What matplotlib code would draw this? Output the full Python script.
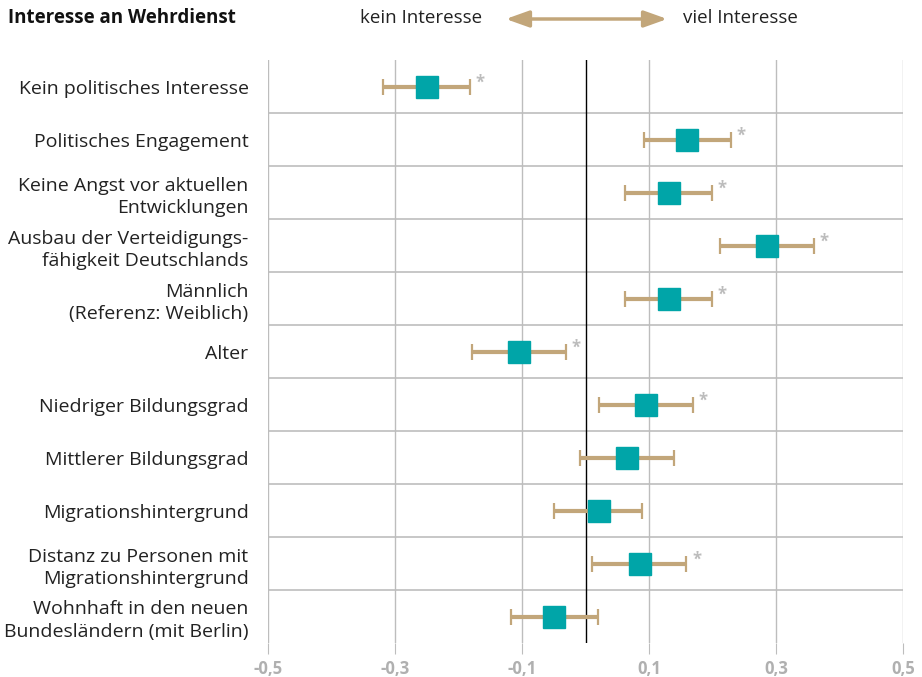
import numpy as np
import matplotlib.pyplot as plt
from matplotlib.patches import FancyArrowPatch

plt.rcParams['font.family'] = ['Open Sans', 'DejaVu Sans']

labels = ['Kein politisches Interesse', 'Politisches Engagement',
          'Keine Angst vor aktuellen\nEntwicklungen',
          'Ausbau der Verteidigungs-\nfähigkeit Deutschlands',
          'Männlich\n(Referenz: Weiblich)', 'Alter',
          'Niedriger Bildungsgrad', 'Mittlerer Bildungsgrad',
          'Migrationshintergrund',
          'Distanz zu Personen mit\nMigrationshintergrund',
          'Wohnhaft in den neuen\nBundesländern (mit Berlin)']
coef = [-0.250, 0.160, 0.131, 0.286, 0.131, -0.105, 0.095, 0.065, 0.021, 0.086, -0.049]
lower = [-0.319, 0.092, 0.062, 0.212, 0.062, -0.179, 0.021, -0.008, -0.049, 0.011, -0.118]
upper = [-0.182, 0.229, 0.199, 0.360, 0.199, -0.031, 0.169, 0.140, 0.089, 0.159, 0.019]
signif = [True, True, True, True, True, True, True, False, False, True, False]
xticks = [-0.5, -0.3, -0.1, 0.1, 0.3, 0.5]

teal = '#00a5a8'
tan = '#c2a67a'
grid = '#bdbdbd'

fig = plt.figure(figsize=(9.22, 6.77), dpi=100)
ax = fig.add_axes([268 / 922, 1 - 643 / 677, 635 / 922, 583 / 677])

y = np.arange(len(labels))
coef = np.array(coef)
err = [coef - np.array(lower), np.array(upper) - coef]

for xt in xticks:
    ax.axvline(xt, color=grid, lw=1, zorder=1)
for yy in y[:-1]:
    ax.axhline(yy + 0.5, color=grid, lw=1.2, zorder=1)
ax.axvline(0, color='black', lw=1, zorder=2)

ax.errorbar(coef, y, xerr=err, fmt='none', ecolor=tan, elinewidth=3,
            capsize=6, capthick=1.6, zorder=3)
ax.plot(coef, y, 's', ms=16.5, color=teal, mec=teal, zorder=4)

for yi, up, s in zip(y, upper, signif):
    if s:
        ax.text(up + 0.009, yi - 0.08, '*', color='#bcbcbc', fontsize=12,
                ha='left', va='center', fontweight='bold')

ax.set_xlim(-0.5, 0.5)
ax.set_ylim(len(labels) - 0.5, -0.5)
ax.set_xticks(xticks)
ax.set_xticklabels([f'{v:.1f}'.replace('.', ',') for v in xticks],
                   color='#b0b0b0', fontsize=12, fontweight='bold')
ax.tick_params(axis='x', length=8, color=grid, pad=4)
ax.set_yticks(y)
ax.set_yticklabels(labels, fontsize=14, color='#222222', linespacing=1.3)
ax.tick_params(axis='y', length=0, pad=14)
for sp in ax.spines.values():
    sp.set_visible(False)

fig.text(8 / 922, 1 - 18 / 677, 'Interesse an Wehrdienst', fontsize=13.5,
         fontweight='bold', va='center', ha='left', color='#111111')
fig.text(360 / 922, 1 - 18 / 677, 'kein Interesse', fontsize=13.5,
         va='center', ha='left', color='#222222')
fig.text(683 / 922, 1 - 18 / 677, 'viel Interesse', fontsize=13.5,
         va='center', ha='left', color='#222222')
fig.patches.append(FancyArrowPatch(
    (503 / 922, 1 - 19 / 677), (670 / 922, 1 - 19 / 677),
    transform=fig.transFigure, arrowstyle='<|-|>,head_length=14,head_width=5',
    color=tan, lw=2.5, mutation_scale=1))

fig.savefig('out.png', dpi=100)
